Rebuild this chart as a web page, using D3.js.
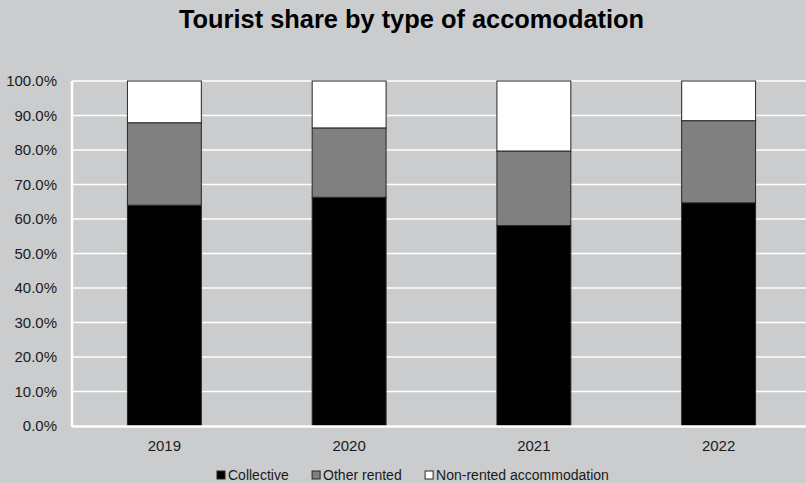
<!DOCTYPE html>
<html>
<head>
<meta charset="utf-8">
<script src="https://cdn.jsdelivr.net/npm/d3@7"></script>
<style>
  html, body { margin: 0; padding: 0; background: #cbccce; }
  svg { display: block; font-family: "Liberation Sans", Arial, sans-serif; }
</style>
</head>
<body>
<svg id="chart" width="806" height="483"></svg>
<script>
// Share of tourists by accommodation type (fractions of total)
const years = ["2019", "2020", "2021", "2022"];
const collective = [0.640, 0.663, 0.581, 0.647];
const otherRented = [0.239, 0.201, 0.216, 0.238];
const nonRented = [0.121, 0.136, 0.203, 0.115];
const seriesNames = ["Collective", "Other rented", "Non-rented accommodation"];
const seriesColors = ["#000000", "#808080", "#ffffff"];
const yTicks = [0, 0.1, 0.2, 0.3, 0.4, 0.5, 0.6, 0.7, 0.8, 0.9, 1.0];

const W = 806, H = 483;
const plot = { left: 72, right: 811, top: 81, bottom: 426 };

const svg = d3.select("#chart");

svg.append("rect").attr("width", W).attr("height", H).attr("fill", "#cbccce");

// Title
svg.append("text")
  .attr("x", 411.5).attr("y", 28)
  .attr("text-anchor", "middle")
  .attr("font-size", 25.4).attr("font-weight", "bold")
  .attr("fill", "#000")
  .text("Tourist share by type of accomodation");

const x = d3.scaleBand().domain(years)
  .range([plot.left, plot.right])
  .paddingInner(0.6).paddingOuter(0.3);
const y = d3.scaleLinear().domain([0, 1]).range([plot.bottom, plot.top]);

// Horizontal gridlines
svg.append("g").selectAll("line").data(yTicks.filter(t => t > 0)).join("line")
  .attr("x1", plot.left).attr("x2", W)
  .attr("y1", d => y(d)).attr("y2", d => y(d))
  .attr("stroke", "#ffffff").attr("stroke-width", 1.5);

// Stacked bars
const rows = years.map((yr, i) => ({
  year: yr,
  Collective: collective[i],
  "Other rented": otherRented[i],
  "Non-rented accommodation": nonRented[i]
}));
const stacked = d3.stack().keys(seriesNames)(rows);

svg.append("g").selectAll("g").data(stacked).join("g")
  .attr("fill", (d, i) => seriesColors[i])
  .selectAll("rect").data(d => d).join("rect")
  .attr("x", d => x(d.data.year))
  .attr("width", x.bandwidth())
  .attr("y", d => y(d[1]))
  .attr("height", d => y(d[0]) - y(d[1]))
  .attr("stroke", "#262626").attr("stroke-width", 1);

// Axis lines
svg.append("line")
  .attr("x1", plot.left).attr("x2", plot.left)
  .attr("y1", plot.top).attr("y2", plot.bottom + 1)
  .attr("stroke", "#ffffff").attr("stroke-width", 2.5);
svg.append("line")
  .attr("x1", plot.left).attr("x2", W)
  .attr("y1", plot.bottom + 0.5).attr("y2", plot.bottom + 0.5)
  .attr("stroke", "#ffffff").attr("stroke-width", 2.5);

// Y axis labels
const yAxis = d3.axisLeft(y).tickValues(yTicks)
  .tickFormat(d3.format(".1%")).tickSize(0).tickPadding(0);
const gy = svg.append("g").attr("transform", `translate(57,0)`).call(yAxis);
gy.select(".domain").remove();
gy.selectAll("text").attr("font-size", 15).attr("fill", "#1a1a1a")
  .attr("font-family", "Liberation Sans, Arial, sans-serif");

// X axis labels
const xAxis = d3.axisBottom(x).tickSize(0).tickPadding(0);
const gx = svg.append("g").attr("transform", `translate(0,${plot.bottom})`).call(xAxis);
gx.select(".domain").remove();
gx.selectAll("text").attr("font-size", 15).attr("fill", "#1a1a1a")
  .attr("dy", null).attr("y", 25)
  .attr("font-family", "Liberation Sans, Arial, sans-serif");

// Legend
const legend = svg.append("g");
let lx = 217;
seriesNames.forEach((name, i) => {
  legend.append("rect")
    .attr("x", lx).attr("y", 471).attr("width", 8).attr("height", 8)
    .attr("fill", seriesColors[i]).attr("stroke", "#262626").attr("stroke-width", 1);
  const t = legend.append("text")
    .attr("x", lx + 11).attr("y", 480)
    .attr("font-size", 14).attr("fill", "#1a1a1a")
    .text(name);
  lx += 11 + t.node().getComputedTextLength() + 23.4;
});
</script>
</body>
</html>
